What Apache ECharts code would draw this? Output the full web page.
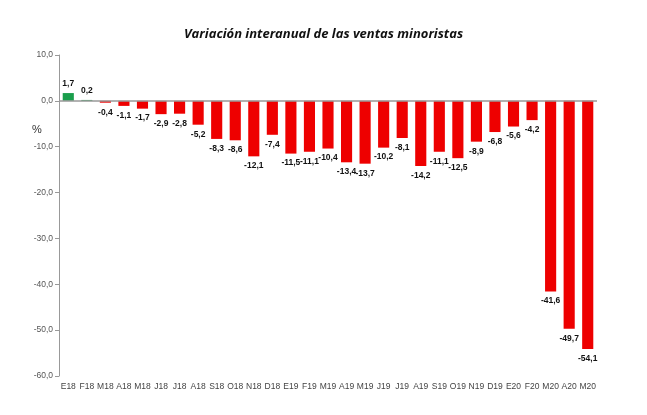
<!DOCTYPE html>
<html><head><meta charset="utf-8">
<script src="https://cdn.jsdelivr.net/npm/echarts@6/dist/echarts.min.js"></script>
<style>html,body{margin:0;padding:0;background:#fff}#c{width:647px;height:415px}</style>
</head><body><div id="c"></div>
<script>
var categories = ['E18','F18','M18','A18','M18','J18','J18','A18','S18','O18','N18','D18',
  'E19','F19','M19','A19','M19','J19','J19','A19','S19','O19','N19','D19',
  'E20','F20','M20','A20','M20'];
var values = [1.7,0.2,-0.4,-1.1,-1.7,-2.9,-2.8,-5.2,-8.3,-8.6,-12.1,-7.4,
  -11.5,-11.1,-10.4,-13.4,-13.7,-10.2,-8.1,-14.2,-11.1,-12.5,-8.9,-6.8,
  -5.6,-4.2,-41.6,-49.7,-54.1];
var yTicks = [10,0,-10,-20,-30,-40,-50,-60];

function fmt(v){ return v.toFixed(1).replace('.', ','); }

var data = values.map(function(v){
  return {
    value: v,
    itemStyle: { color: v >= 0 ? '#1a9e4c' : '#ee0000' },
    label: { position: v >= 0 ? 'top' : 'bottom' }
  };
});

var chart = echarts.init(document.getElementById('c'));
chart.setOption({
  animation: false,
  title: {
    text: 'Variación interanual de las ventas minoristas',
    left: 'center', top: 23,
    textStyle: { fontFamily: 'Open Sans', fontSize: 13, fontWeight: 'bold', fontStyle: 'italic', color: '#111' }
  },
  graphic: [{
    type: 'text', left: 32, top: 124,
    style: { text: '%', fontSize: 11, fill: '#333', fontFamily: 'Liberation Sans' }
  }],
  grid: { left: 59, right: 50, top: 55, bottom: 39 },
  xAxis: {
    type: 'category', data: categories,
    axisLine: { show: false, onZero: false },
    axisTick: { show: false },
    axisLabel: { interval: 0, color: '#444', fontSize: 8.5, fontFamily: 'Liberation Sans', margin: 6 }
  },
  yAxis: {
    type: 'value', min: -60, max: 10, interval: 10,
    axisLine: { show: true, lineStyle: { color: '#999' } },
    axisTick: { show: true, length: 4, lineStyle: { color: '#999' } },
    splitLine: { show: false },
    axisLabel: { color: '#555', fontSize: 8.5, fontFamily: 'Liberation Sans', margin: 6,
      formatter: function(v){ return fmt(v); } }
  },
  series: [{
    type: 'bar', data: data, barWidth: '60%',
    label: { show: true, fontSize: 8.5, fontWeight: 'bold', color: '#111', fontFamily: 'Liberation Sans', distance: 5,
      formatter: function(p){ return fmt(p.value); } },
    markLine: {
      silent: true, symbol: 'none', label: { show: false },
      lineStyle: { color: '#999', type: 'solid', width: 1.5 },
      data: [{ yAxis: 0 }]
    }
  }]
});
</script></body></html>
